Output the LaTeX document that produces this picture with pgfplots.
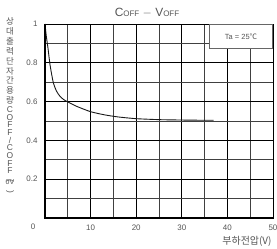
\documentclass[border=0pt]{standalone}
\usepackage{pgfplots}
\pgfplotsset{compat=1.18}
\usepackage{fontspec}
\setmainfont{Liberation Sans}
\newfontfamily\kr{Noto Sans CJK KR}
\definecolor{txt}{HTML}{555555}
\begin{document}
\begin{tikzpicture}
\begin{axis}[
  scale only axis,
  width=228bp, height=194bp,
  xmin=0, xmax=50, ymin=0, ymax=1,
  xtick={0,10,20,30,40,50},
  xticklabels={,10,20,30,40,50},
  ytick={0,0.2,0.4,0.6,0.8,1},
  yticklabels={,0.2,0.4,0.6,0.8,1},
  minor x tick num=1, minor y tick num=1,
  major tick length=0pt, minor tick length=0pt,
  grid=both,
  major grid style={black, line width=0.75pt},
  minor grid style={black!75, line width=0.75pt},
  axis line style={black, line width=0.7pt},
  tick label style={font=\fontsize{8}{9}\selectfont, text=txt},
  /pgf/number format/assume math mode=true,
  xticklabel style={yshift=-3bp},
  yticklabel style={xshift=-4bp},
  clip=false,
]
\addplot[black!90, line width=0.9pt, smooth, tension=0.4] coordinates {
 (0,1) (0.3,0.935) (0.66,0.875) (1.1,0.79) (1.8,0.70) (2.5,0.655) (3.2,0.63)
 (4,0.612) (5,0.598) (7,0.575) (10,0.548) (13,0.532) (16,0.521) (20,0.512)
 (25,0.507) (30,0.505) (34,0.504) (37,0.504)
};
\draw[black, line width=1.3pt] (rel axis cs:0,1) -- (rel axis cs:0,0) -- (rel axis cs:1,0);
\coordinate (O) at (rel axis cs:0,0);
\coordinate (T) at (rel axis cs:1,1);
\node[draw=black!60, line width=0.9pt, fill=white, anchor=north east,
      minimum width=63bp, minimum height=24bp, inner sep=0pt,
      font=\fontsize{7.5}{8}\selectfont, text=txt]
  at (rel axis cs:1,1) {Ta = 25{\kr ℃}};
\end{axis}
\node[text=txt, font=\fontsize{12}{13}\selectfont, anchor=base] at ([shift={(102bp,7bp)}]O |- T)
  {C{\fontsize{8}{9}\selectfont OFF} $-$ V{\fontsize{8}{9}\selectfont OFF}};
\node[text=txt, font=\fontsize{8}{9}\selectfont] at ([shift={(-12bp,-9bp)}]O) {0};
\node[text=txt, font=\kr\fontsize{10}{11}\selectfont] at ([shift={(202bp,-23bp)}]O) {부하전압(V)};
\node[text=txt, anchor=north, align=center, inner sep=0pt,
      font=\fontsize{8.5}{10}\selectfont]
  at ([shift={(-35bp,7bp)}]O |- T)
  {{\kr 상}\\{\kr 대}\\{\kr 출}\\{\kr 력}\\{\kr 단}\\{\kr 자}\\{\kr 간}\\{\kr 용}\\{\kr 량}\\[-1.5pt]
   C\\[-2.3pt]O\\[-2.3pt]F\\[-2.3pt]F\\[-2.3pt]/\\[-2.3pt]C\\[-2.3pt]O\\[-2.3pt]F\\[-2.3pt]F\\[-4.5pt]
   \rotatebox{-90}{(}\\[-4.5pt]{\fontsize{7}{8}\selectfont 0V}\\[-4.5pt]\rotatebox{-90}{)}};
\pgfresetboundingbox
\path ([shift={(-45bp,-31bp)}]O) rectangle ([shift={(4bp,24bp)}]T);
\end{tikzpicture}
\end{document}
